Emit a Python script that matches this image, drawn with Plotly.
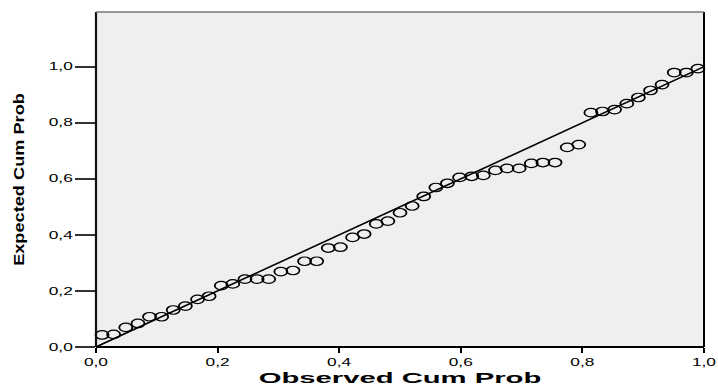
import plotly.graph_objects as go

# Observed cumulative probabilities (x) and expected cumulative probabilities (y)
observed = [0.010, 0.029, 0.049, 0.069, 0.088, 0.108, 0.127, 0.147, 0.167, 0.186,
            0.206, 0.225, 0.245, 0.265, 0.284, 0.304, 0.324, 0.343, 0.363, 0.382,
            0.402, 0.422, 0.441, 0.461, 0.480, 0.500, 0.520, 0.539, 0.559, 0.578,
            0.598, 0.618, 0.637, 0.657, 0.676, 0.696, 0.716, 0.735, 0.755, 0.775,
            0.794, 0.814, 0.833, 0.853, 0.873, 0.892, 0.912, 0.931, 0.951, 0.971,
            0.990]
expected = [0.043, 0.045, 0.070, 0.084, 0.108, 0.108, 0.132, 0.146, 0.170, 0.181,
            0.219, 0.225, 0.242, 0.242, 0.242, 0.269, 0.273, 0.306, 0.306, 0.353,
            0.356, 0.391, 0.403, 0.439, 0.449, 0.479, 0.503, 0.537, 0.569, 0.584,
            0.605, 0.609, 0.612, 0.630, 0.637, 0.637, 0.655, 0.658, 0.658, 0.712,
            0.722, 0.836, 0.840, 0.847, 0.868, 0.890, 0.915, 0.936, 0.979, 0.979,
            0.993]

# Reference diagonal
diag_x = [0.0, 1.0]
diag_y = [0.0, 1.0]

tick_vals = [0.0, 0.2, 0.4, 0.6, 0.8, 1.0]
tick_text = ["0,0", "0,2", "0,4", "0,6", "0,8", "1,0"]

x_title = "Observed Cum Prob"
y_title = "Expected Cum Prob"

FONT = "Liberation Sans, Arial, sans-serif"

fig = go.Figure()
fig.add_trace(go.Scatter(
    x=diag_x, y=diag_y, mode="lines",
    line=dict(color="black", width=1.6),
    hoverinfo="skip", showlegend=False,
))
fig.add_trace(go.Scatter(
    x=observed, y=expected, mode="markers",
    marker=dict(symbol="circle-open", size=10, color="black",
                line=dict(color="black", width=1.4)),
    showlegend=False, cliponaxis=False,
))

# frame: left/bottom/right black, top grey
frame = [
    dict(x0=0, x1=0, y0=0, y1=1, color="#111111", width=2.2),
    dict(x0=0, x1=1, y0=0, y1=0, color="#000000", width=2),
    dict(x0=1, x1=1, y0=0, y1=1, color="#000000", width=2),
    dict(x0=0, x1=1, y0=1, y1=1, color="#777777", width=1.6),
]
for f in frame:
    fig.add_shape(type="line", xref="x domain", yref="y domain",
                  x0=f["x0"], x1=f["x1"], y0=f["y0"], y1=f["y1"],
                  line=dict(color=f["color"], width=f["width"]), layer="above")

fig.update_layout(
    width=718, height=389,
    margin=dict(l=96, r=14, t=12, b=42),
    paper_bgcolor="white",
    plot_bgcolor="#EFEFEF",
    font=dict(family=FONT, color="black", size=10),
    showlegend=False,
)
fig.update_xaxes(
    range=[0, 1], tickvals=tick_vals, ticktext=tick_text,
    showgrid=False, zeroline=False, showline=False,
    ticks="outside", ticklen=5, tickwidth=2, tickcolor="black",
    tickfont=dict(family=FONT, size=10.5, color="black"),
    title=dict(text="<b>" + x_title + "</b>", standoff=5,
               font=dict(family=FONT, size=15, color="black")),
    automargin=False,
)
fig.update_yaxes(
    range=[0, 1.195], tickvals=tick_vals, ticktext=tick_text,
    showgrid=False, zeroline=False, showline=False,
    ticks="outside", ticklen=20, tickwidth=1.5, tickcolor="#333333",
    tickfont=dict(family=FONT, size=10.5, color="black"),
    title=dict(text="<b>" + y_title + "</b>", standoff=30,
               font=dict(family=FONT, size=14, color="black")),
    automargin=False,
)

post = """
document.body.style.margin = '0';
document.body.style.padding = '0';
function stretch(sel, sx, sy){
  document.querySelectorAll(sel).forEach(function(el){
    var bb = el.getBBox();
    var a = el.getAttribute('text-anchor') || 'start';
    var ax = a === 'middle' ? bb.x + bb.width/2 : (a === 'end' ? bb.x + bb.width : bb.x);
    var ay = bb.y + bb.height/2;
    var t = el.getAttribute('transform') || '';
    el.setAttribute('transform', t + ' translate(' + ax + ',' + ay + ') scale(' + sx + ',' + sy + ') translate(' + (-ax) + ',' + (-ay) + ')');
  });
}
function squash(sel, sx, sy){
  document.querySelectorAll(sel).forEach(function(el){
    var t = el.getAttribute('transform') || '';
    el.setAttribute('transform', t + ' scale(' + sx + ',' + sy + ')');
  });
}
stretch('.xtick text', 1.65, 1);
stretch('.ytick text', 1.65, 1);
stretch('.g-xtitle text', 1.95, 1);
stretch('.g-ytitle text', 1.3, 1);
squash('.scatterlayer .points path', 1.3, 0.85);
"""

fig.write_html("out.html", post_script=post, config={"displayModeBar": False})
